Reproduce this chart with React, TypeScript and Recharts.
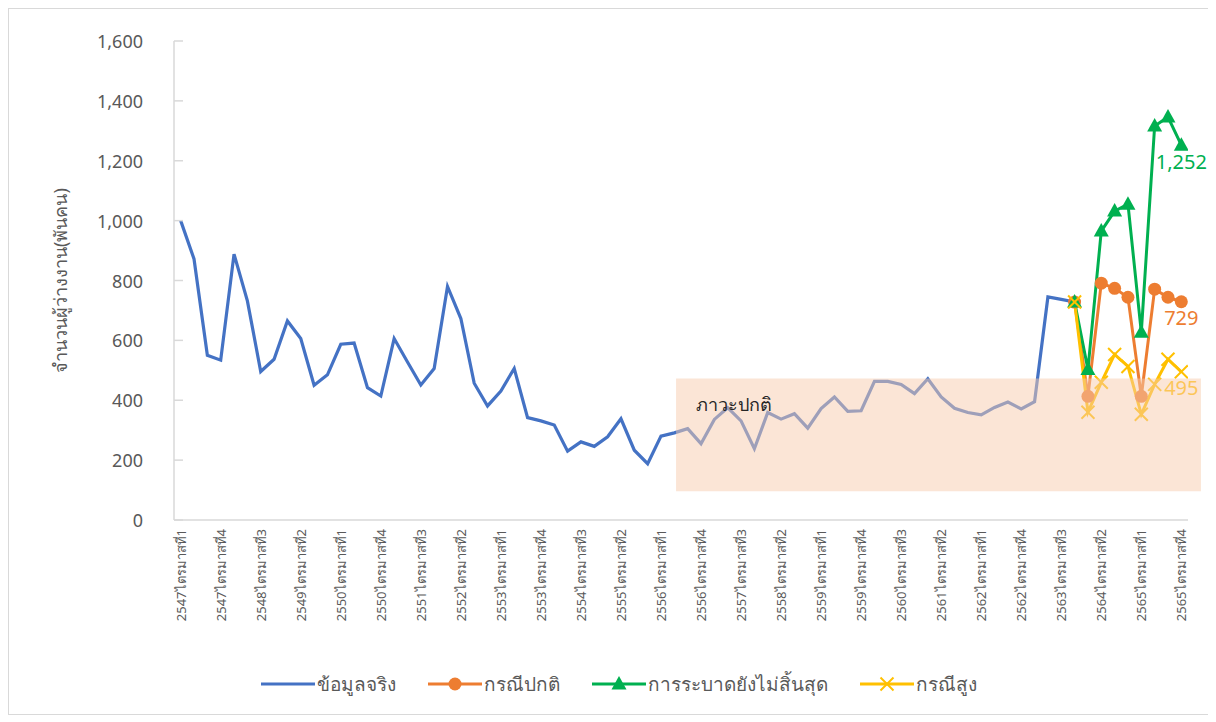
import { LineChart, Line, XAxis, YAxis, Legend, ReferenceArea } from "recharts";

const years = ["2547", "2548", "2549", "2550", "2551", "2552", "2553", "2554", "2555", "2556", "2557", "2558", "2559", "2560", "2561", "2562", "2563", "2564", "2565"];
const quarters = ["ไตรมาสที่1", "ไตรมาสที่2", "ไตรมาสที่3", "ไตรมาสที่4"];
const categories = years.flatMap((y) => quarters.map((q) => y + q));

// actual unemployed (thousand persons), 2547Q1 .. 2563Q4
const actual = [
  1000, 872, 550, 534, 888, 732, 496, 537, 665, 606,
  450, 485, 587, 591, 442, 414, 606, 528, 451, 506,
  780, 673, 457, 381, 431, 506, 342, 331, 317, 230,
  261, 246, 278, 338, 233, 188, 280, 291, 305, 255,
  336, 375, 331, 238, 359, 337, 355, 307, 372, 411,
  363, 365, 463, 463, 453, 422, 472, 411, 373, 359,
  351, 376, 394, 371, 395, 745, 737, 728,
];

// scenarios, 2563Q4 .. 2565Q4
const normal = [728, 413, 791, 774, 744, 413, 771, 744, 729];
const epidemic = [728, 503, 965, 1032, 1055, 627, 1316, 1346, 1252];
const high = [728, 360, 460, 553, 513, 353, 453, 537, 495];

const yTicks = [0, 200, 400, 600, 800, 1000, 1200, 1400, 1600];

const forecastStart = actual.length - 1;
const lastIdx = categories.length - 1;

const data = categories.map((name, i) => ({
  i,
  name,
  actual: i < actual.length ? actual[i] : undefined,
  normal: i >= forecastStart ? normal[i - forecastStart] : undefined,
  epidemic: i >= forecastStart ? epidemic[i - forecastStart] : undefined,
  high: i >= forecastStart ? high[i - forecastStart] : undefined,
}));

const xTicks = categories.map((_, i) => i).filter((i) => i % 3 === 0);

const FONT = "'Noto Sans', 'DejaVu Sans', sans-serif";
const GREY = "#595959";
const BLUE = "#4472C4";
const ORANGE = "#ED7D31";
const GREEN = "#00B050";
const YELLOW = "#FFC000";

function Marker({ kind, cx, cy, color }: any) {
  if (kind === "circle") return <circle cx={cx} cy={cy} r={6.5} fill={color} />;
  if (kind === "triangle")
    return <polygon points={`${cx},${cy - 8} ${cx - 7.5},${cy + 5.5} ${cx + 7.5},${cy + 5.5}`} fill={color} />;
  if (kind === "cross")
    return (
      <g stroke={color} strokeWidth={2}>
        <line x1={cx - 6.5} y1={cy - 6.5} x2={cx + 6.5} y2={cy + 6.5} />
        <line x1={cx - 6.5} y1={cy + 6.5} x2={cx + 6.5} y2={cy - 6.5} />
      </g>
    );
  return null;
}

const dotFor = (kind: string, color: string) => (p: any) => {
  if (p.cx == null || p.cy == null || p.value == null || isNaN(p.cy)) return <g key={`e${p.index}`} />;
  return (
    <g key={`d${p.index}`}>
      <Marker kind={kind} cx={p.cx} cy={p.cy} color={color} />
    </g>
  );
};

const endLabel = (color: string) => (p: any) => {
  if (p.index !== lastIdx || p.value == null) return null;
  return (
    <text key="end" x={p.x} y={p.y + 16} fill={color} fontSize={20} fontFamily={FONT} textAnchor="middle" dominantBaseline="central">
      {Number(p.value).toLocaleString("en-US")}
    </text>
  );
};

const legendItems = [
  { name: "ข้อมูลจริง", color: BLUE, kind: "none" },
  { name: "กรณีปกติ", color: ORANGE, kind: "circle" },
  { name: "การระบาดยังไม่สิ้นสุด", color: GREEN, kind: "triangle" },
  { name: "กรณีสูง", color: YELLOW, kind: "cross" },
];

function LegendContent() {
  return (
    <div style={{ display: "flex", justifyContent: "center", gap: 32, paddingLeft: 20, fontFamily: FONT }}>
      {legendItems.map((it) => (
        <div key={it.name} style={{ display: "flex", alignItems: "center" }}>
          <svg width={54} height={22}>
            <line x1={0} y1={11} x2={54} y2={11} stroke={it.color} strokeWidth={3} />
            <Marker kind={it.kind} cx={27} cy={11} color={it.color} />
          </svg>
          <span style={{ fontSize: 19, color: GREY, marginLeft: 2 }}>{it.name}</span>
        </div>
      ))}
    </div>
  );
}

function YTick({ x, y, payload }: any) {
  return (
    <g>
      <line x1={x + 31} y1={y} x2={x + 40} y2={y} stroke="#d9d9d9" strokeWidth={1.5} />
      <text x={x} y={y} fill={GREY} fontSize={18} fontFamily={FONT} textAnchor="end" dominantBaseline="central">
        {Number(payload.value).toLocaleString("en-US")}
      </text>
    </g>
  );
}

function XTick({ x, y, payload }: any) {
  return (
    <text x={x} y={y} fill={GREY} fontSize={13} fontFamily={FONT} textAnchor="end" dominantBaseline="central" transform={`rotate(-90 ${x} ${y})`}>
      {categories[payload.value]}
    </text>
  );
}

function YTitle({ viewBox }: any) {
  const cx = viewBox.x + 6;
  const cy = viewBox.y + viewBox.height / 2;
  return (
    <text x={cx} y={cy} fill={GREY} fontSize={18} fontFamily={FONT} textAnchor="middle" dominantBaseline="central" transform={`rotate(-90 ${cx} ${cy})`}>
      จำนวนผู้ว่างงาน(พันคน)
    </text>
  );
}

export default function App() {
  return (
    <div style={{ width: 1200, height: 705, border: "1px solid #d9d9d9", background: "#fff" }}>
      <LineChart width={1200} height={705} data={data} margin={{ top: 32, right: 21, left: 45, bottom: 84 }}>
        <XAxis
          type="number"
          dataKey="i"
          domain={[-0.5, 75.5]}
          ticks={xTicks}
          interval={0}
          allowDataOverflow
          height={110}
          tickSize={0}
          tickMargin={9}
          tickLine={false}
          axisLine={{ stroke: "#d9d9d9", strokeWidth: 1.5 }}
          tick={<XTick />}
        />
        <YAxis
          domain={[0, 1600]}
          ticks={yTicks}
          width={120}
          tickSize={0}
          tickMargin={31}
          tickLine={false}
          axisLine={{ stroke: "#d9d9d9", strokeWidth: 1.5 }}
          tick={<YTick />}
          label={{ content: (p: any) => <YTitle {...p} /> }}
        />
        <Legend verticalAlign="middle" align="center" layout="horizontal" wrapperStyle={{ top: 660, left: 0, width: 1200 }} content={() => <LegendContent />} />
        <Line dataKey="actual" stroke={BLUE} strokeWidth={3.2} dot={false} isAnimationActive={false} />
        <Line dataKey="normal" stroke={ORANGE} strokeWidth={3} dot={dotFor("circle", ORANGE)} label={endLabel(ORANGE)} isAnimationActive={false} />
        <Line dataKey="epidemic" stroke={GREEN} strokeWidth={3} dot={dotFor("triangle", GREEN)} label={endLabel(GREEN)} isAnimationActive={false} />
        <Line dataKey="high" stroke={YELLOW} strokeWidth={3} dot={dotFor("cross", YELLOW)} label={endLabel(YELLOW)} isAnimationActive={false} />
        <ReferenceArea
          x1={37.13}
          x2={76.47}
          y1={96}
          y2={473}
          ifOverflow="visible"
          fill="#F8CBAD"
          fillOpacity={0.5}
          stroke="none"
          zIndex={2100}
        />
        <ReferenceArea
          x1={37.13}
          x2={76.47}
          y1={96}
          y2={473}
          ifOverflow="visible"
          fill="none"
          fillOpacity={0}
          stroke="none"
          zIndex={2300}
          label={{ value: "ภาวะปกติ", position: "insideTopLeft", offset: 20, fill: "#262626", fontSize: 18, fontFamily: FONT, zIndex: 2300 }}
        />
      </LineChart>
    </div>
  );
}
